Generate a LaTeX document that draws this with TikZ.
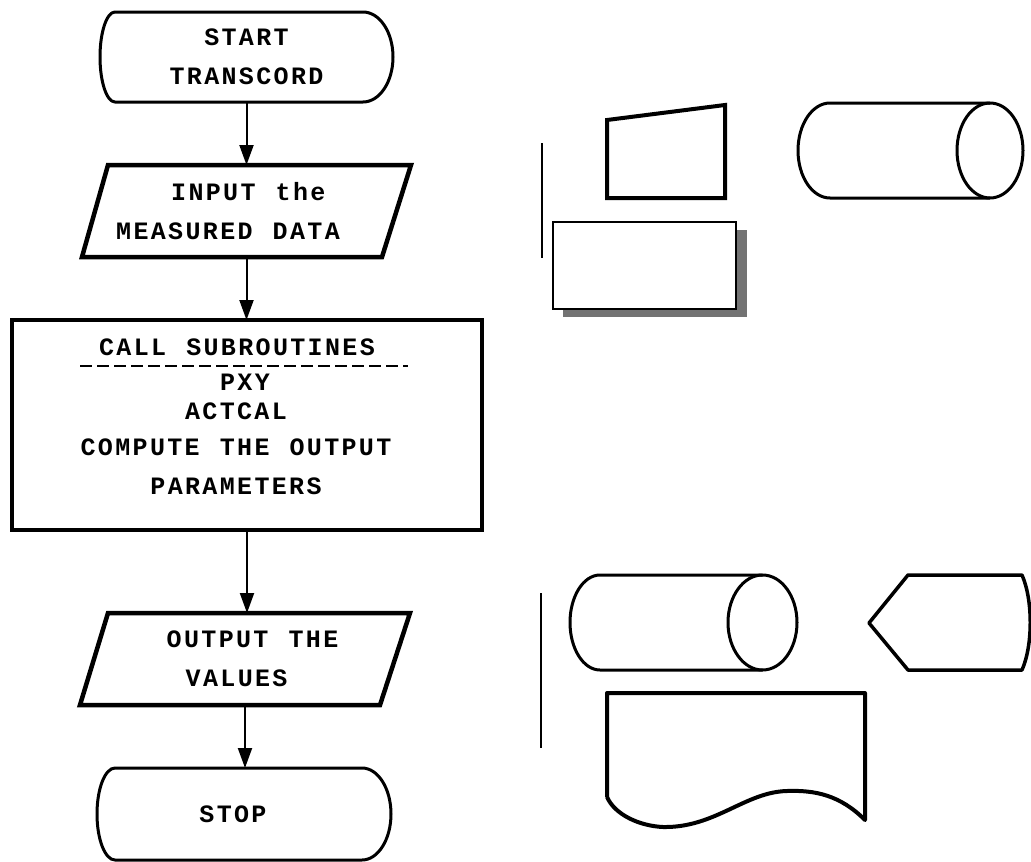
\documentclass[tikz,border=0pt]{standalone}
\usepackage{fontspec}
\newfontfamily\flowfont{Liberation Mono}[LetterSpace=9.4, WordSpace={1.157,0,0}]
\usetikzlibrary{arrows.meta,patterns}
\begin{document}
\begin{tikzpicture}[x=1pt,y=-1pt,
  flowtext/.style={inner sep=0pt, outer sep=0pt, font=\flowfont\bfseries\fontsize{25}{39}\selectfont},
  shapebox/.style={flowtext},
  termline/.style={line width=3pt, line join=round},
  ioline/.style={line width=4.5pt, line join=miter},
  procline/.style={line width=4pt},
  conn/.style={line width=2pt, -{Triangle[length=20pt,width=14pt]}},
  symline/.style={line width=3pt, line join=round},
  thinline/.style={line width=2pt}]
\useasboundingbox (0,0) rectangle (1031,862);

% ---- flowchart nodes ----
\node[shapebox, minimum width=293pt, minimum height=90pt, align=center] (start) at (246.5,57) {START\\TRANSCORD};
\draw[termline] (115,12) -- (363,12) arc[start angle=270, end angle=450, x radius=30, y radius=45]
  -- (115,102) arc[start angle=90, end angle=270, x radius=15, y radius=45] -- cycle;

\node[shapebox, minimum width=329pt, minimum height=92pt, align=left] (in) at (246.5,211)
  {\hspace*{55pt}INPUT the\\MEASURED DATA\hbox to 37pt{}};
\draw[ioline] (108,165) -- (411,165) -- (382,257) -- (82,257) -- cycle;

\node[shapebox, draw, procline, minimum width=470pt, minimum height=210pt] (call) at (247,425) {};
\node[flowtext] (callt) at (237,347) {CALL SUBROUTINES};
\draw[line width=2.5pt, dash pattern=on 12pt off 5pt] (80,366) -- (408,366);
\node[flowtext] (pxy) at (245,382) {PXY};
\node[flowtext] (actcal) at (236,411) {ACTCAL};
\node[flowtext, align=center] (comp) at (236,467) {COMPUTE THE OUTPUT\\PARAMETERS};

\node[shapebox, minimum width=330pt, minimum height=92pt, align=left] (out) at (245,659)
  {\hspace*{15pt}OUTPUT THE\\\hspace*{34pt}VALUES};
\draw[ioline] (108,613) -- (410,613) -- (380,705) -- (80,705) -- cycle;

\node[shapebox, minimum width=294pt, minimum height=92pt] (stop) at (244,814) {STOP\hbox to 22pt{}};
\draw[termline] (115,768) -- (362,768) arc[start angle=270, end angle=450, x radius=29, y radius=46]
  -- (115,860) arc[start angle=90, end angle=270, x radius=18, y radius=46] -- cycle;

% ---- connectors ----
\draw[conn] (start.south) -- (in.north);
\draw[conn] (in.south) -- (in.south |- call.north);
\draw[conn] (call.south) -- (call.south |- out.north);
\draw[conn] (out.south) -- (out.south |- stop.north);

% ---- symbol group, top right ----
\draw[thinline] (542,143) -- (542,258);
\draw[line width=4pt, line join=miter] (607,120) -- (725,105) -- (725,198) -- (607,198) -- cycle;
\fill[black!55] (736,230) rectangle (747,317);
\fill[black!55] (563,309) rectangle (747,317);
\draw[thinline, fill=white] (553,222) rectangle (736,309);
\draw[symline] (990,103) -- (830,103) arc[start angle=270, end angle=90, x radius=32, y radius=47.5] -- (990,198);
\draw[symline] (990,150.5) ellipse[x radius=33, y radius=47.5];

% ---- symbol group, bottom right ----
\draw[thinline] (541,593) -- (541,748);
\draw[symline] (762.5,575) -- (600,575) arc[start angle=270, end angle=90, x radius=30, y radius=47.5] -- (762.5,670);
\draw[symline] (762.5,622.5) ellipse[x radius=34.5, y radius=47.5];
\draw[line width=3.5pt, line join=round] (869,623) -- (908,575) -- (1022,575)
  .. controls (1033,600) and (1033,645) .. (1022,670) -- (908,670) -- cycle;
\draw[line width=4pt, line join=round] (607,797) -- (607,693) -- (865,693) -- (865,820)
  .. controls (840,795) and (815,790) .. (787,791)
  .. controls (745,792) and (715,828) .. (663,827)
  .. controls (640,826) and (615,815) .. (607,797);
\end{tikzpicture}
\end{document}
